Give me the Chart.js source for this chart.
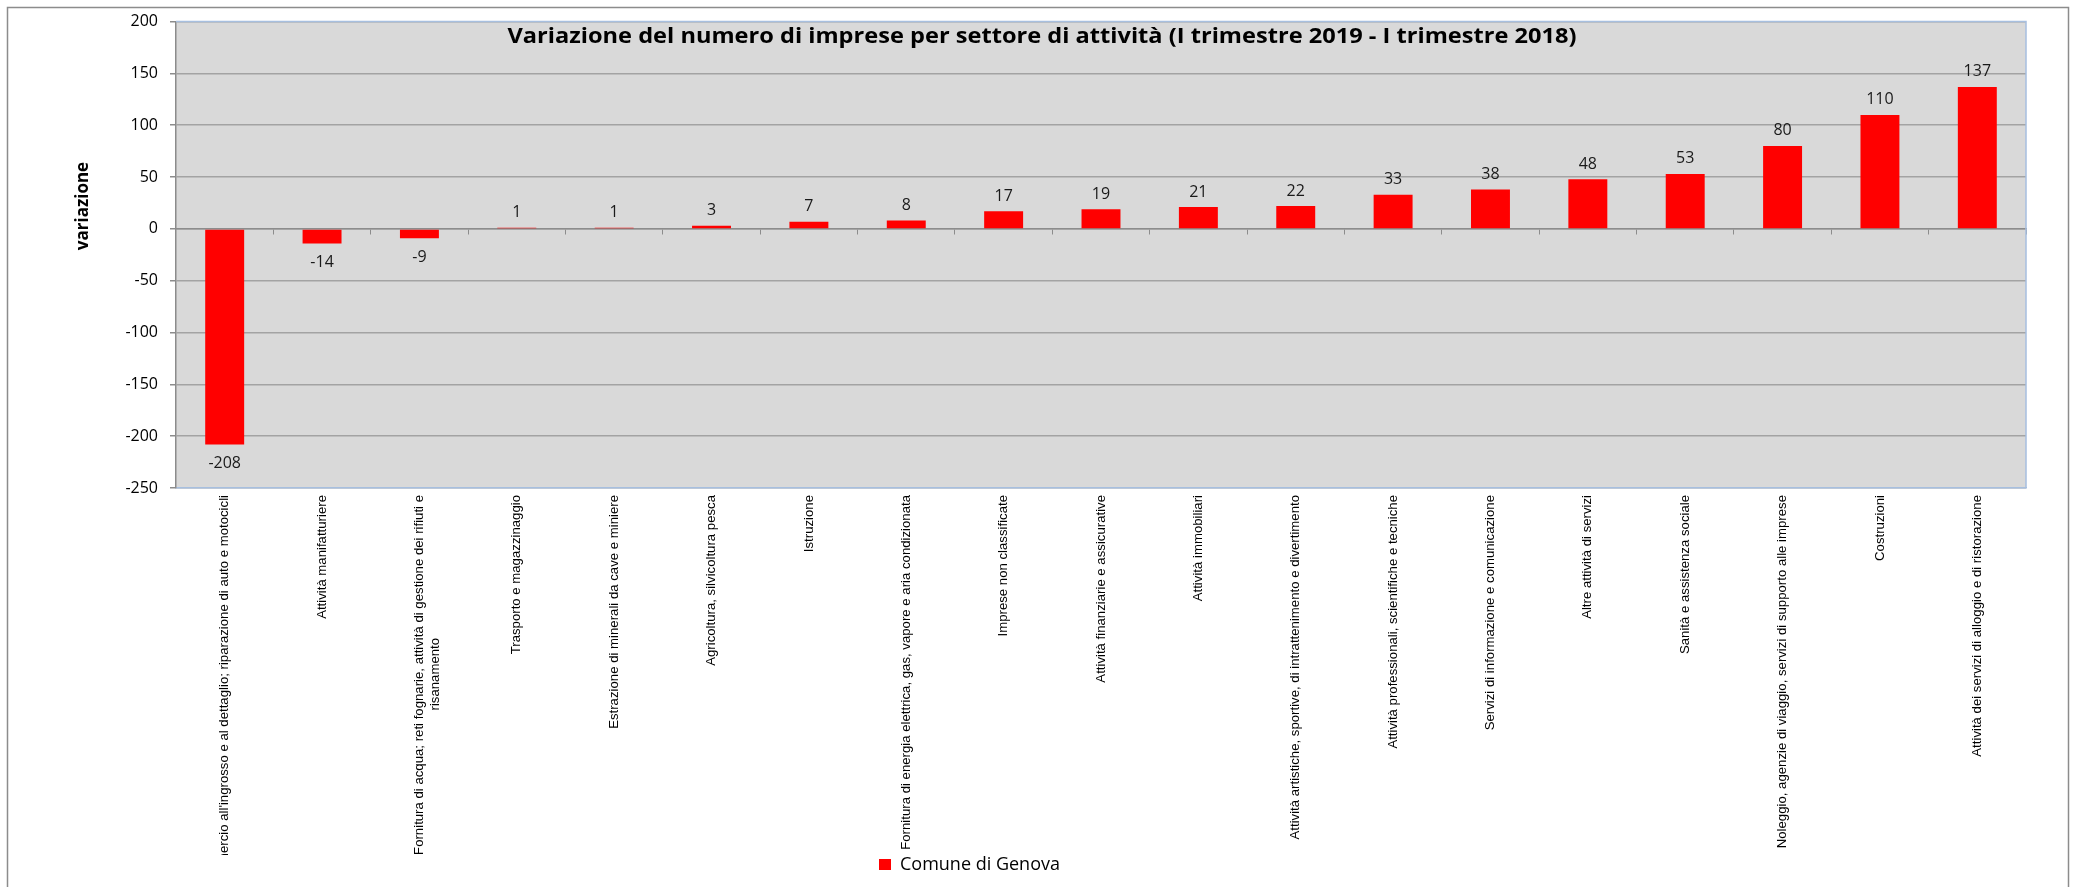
<!DOCTYPE html>
<html>
<head>
<meta charset="utf-8">
<title>Variazione del numero di imprese per settore di attività</title>
<script src="https://cdn.jsdelivr.net/npm/chart.js@4.4.1/dist/chart.umd.min.js"></script>
<style>
  html, body { margin: 0; padding: 0; background: #fff; }
  canvas { display: block; }
</style>
</head>
<body>
<canvas id="chart" width="2076" height="887"></canvas>
<script>
// dati
const settori = [
  "Commercio all'ingrosso e al dettaglio; riparazione di auto e motocicli",
  'Attività manifatturiere',
  ['Fornitura di acqua; reti fognarie, attività di gestione dei rifiuti e', 'risanamento'],
  'Trasporto e magazzinaggio',
  'Estrazione di minerali da cave e miniere',
  'Agricoltura, silvicoltura pesca',
  'Istruzione',
  'Fornitura di energia elettrica, gas, vapore e aria condizionata',
  'Imprese non classificate',
  'Attività finanziarie e assicurative',
  'Attività immobiliari',
  'Attività artistiche, sportive, di intrattenimento e divertimento',
  'Attività professionali, scientifiche e tecniche',
  'Servizi di informazione e comunicazione',
  'Altre attività di servizi',
  'Sanità e assistenza sociale',
  'Noleggio, agenzie di viaggio, servizi di supporto alle imprese',
  'Costruzioni',
  'Attività dei servizi di alloggio e di ristorazione'
];
const variazioni = [-208, -14, -9, 1, 1, 3, 7, 8, 17, 19, 21, 22, 33, 38, 48, 53, 80, 110, 137];
const serie = 'Comune di Genova';
const titolo = 'Variazione del numero di imprese per settore di attività (I trimestre 2019 - I trimestre 2018)';
const titoloAsseY = 'variazione';
const yMin = -250;
const yMax = 200;
const yPasso = 50;

const FONT = '"Open Sans", "Liberation Sans", sans-serif';
const FONT_ETICH = '"Liberation Sans", Arial, sans-serif';
const DIM_X = 13.2;

// Excel centra la seconda riga dell'etichetta: aggiungo spazi in coda
const misura = document.createElement('canvas').getContext('2d');
function centraRighe(label) {
  if (!Array.isArray(label)) return label;
  misura.font = DIM_X + 'px ' + FONT_ETICH;
  const w0 = misura.measureText(label[0]).width;
  const sp = misura.measureText(' ').width;
  return label.map((r, i) => {
    if (i === 0) return r;
    const n = Math.round((w0 - misura.measureText(r).width) / 2 / sp);
    return r + ' '.repeat(Math.max(n, 0));
  });
}

// cornice esterna, sfondo grigio dell'area del grafico e bordo azzurro
const sfondo = {
  id: 'sfondo',
  beforeDraw(chart) {
    const { ctx, chartArea: a } = chart;
    ctx.save();
    ctx.strokeStyle = '#8c8c8c';
    ctx.lineWidth = 1.5;
    ctx.strokeRect(7.5, 7.5, 2061, 900);
    ctx.fillStyle = '#d9d9d9';
    ctx.fillRect(a.left, a.top, a.right - a.left, a.bottom - a.top);
    ctx.restore();
  },
  beforeDatasetsDraw(chart) {
    const { ctx, chartArea: a } = chart;
    ctx.save();
    ctx.strokeStyle = '#a7bfdf';
    ctx.lineWidth = 1.5;
    ctx.beginPath();
    ctx.moveTo(a.left, a.top);
    ctx.lineTo(a.right, a.top);
    ctx.lineTo(a.right, a.bottom);
    ctx.stroke();
    ctx.restore();
  }
};

// valori sopra / sotto le barre
const etichette = {
  id: 'etichette',
  afterDatasetsDraw(chart) {
    const { ctx } = chart;
    const meta = chart.getDatasetMeta(0);
    const dati = chart.data.datasets[0].data;
    ctx.save();
    ctx.font = '16px ' + FONT;
    ctx.fillStyle = '#1a1a1a';
    ctx.textAlign = 'center';
    ctx.textBaseline = 'alphabetic';
    meta.data.forEach((bar, i) => {
      const v = dati[i];
      const y = v >= 0 ? bar.y - 10.5 : bar.y + 24;
      ctx.fillText(String(v), bar.x, y);
    });
    ctx.restore();
  }
};

// titolo sovrapposto all'area e titolo dell'asse y
const testi = {
  id: 'testi',
  afterDraw(chart) {
    const { ctx } = chart;
    ctx.save();
    ctx.fillStyle = '#000';
    ctx.font = 'bold 22px ' + FONT;
    ctx.textAlign = 'center';
    ctx.textBaseline = 'alphabetic';
    const w = ctx.measureText(titolo).width;
    ctx.translate(1042, 43);
    ctx.scale(1069 / w, 1);
    ctx.fillText(titolo, 0, 0);
    ctx.restore();

    ctx.save();
    ctx.fillStyle = '#000';
    ctx.translate(83, 206);
    ctx.rotate(-Math.PI / 2);
    ctx.font = 'bold 17px ' + FONT;
    ctx.textAlign = 'center';
    ctx.textBaseline = 'middle';
    ctx.fillText(titoloAsseY, 0, 0);
    ctx.restore();
  }
};

// la legenda di Excel non e' centrata: la sposto
const spostaLegenda = {
  id: 'spostaLegenda',
  afterLayout(chart) {
    const lg = chart.legend;
    const pad = lg.options.labels.padding;
    const h = lg.bottom - lg.top;
    lg.top = 851.5;
    lg.bottom = lg.top + h;
    const cur = (lg.left + pad + lg.right - lg.lineWidths[0]) / 2;
    const dx = 879 - cur;
    lg.left += dx;
    lg.right += dx;
  }
};

new Chart(document.getElementById('chart').getContext('2d'), {
  type: 'bar',
  data: {
    labels: settori,
    datasets: [{
      label: serie,
      data: variazioni,
      xAxisID: 'x',
      yAxisID: 'y',
      backgroundColor: '#ff0000',
      borderWidth: 0,
      barPercentage: 0.4,
      categoryPercentage: 1
    }]
  },
  options: {
    responsive: false,
    animation: false,
    devicePixelRatio: 1,
    layout: { padding: { left: 0, top: 18, right: 50, bottom: 0 } },
    plugins: {
      legend: {
        position: 'bottom',
        labels: {
          boxWidth: 12,
          boxHeight: 11,
          padding: 4,
          color: '#000',
          font: { family: FONT, size: 18 }
        }
      },
      title: { display: false },
      tooltip: { enabled: false }
    },
    scales: {
      x: {
        ticks: {
          minRotation: 90,
          maxRotation: 90,
          autoSkip: false,
          padding: 7,
          color: '#000',
          font: { family: FONT_ETICH, size: DIM_X },
          callback(value) { return centraRighe(this.getLabelForValue(value)); }
        },
        grid: { display: false, drawTicks: false },
        border: { color: '#a7bfdf', width: 1.5 },
        afterFit(s) { s.height = 367; }
      },
      // asse orizzontale che incrocia lo zero, con le tacche tra le categorie
      x0: {
        type: 'category',
        position: { y: 0 },
        offset: true,
        ticks: { display: false },
        grid: { offset: true, drawOnChartArea: false, drawTicks: true, tickLength: 5, color: '#8c8c8c' },
        border: { color: '#8c8c8c', width: 1.5 }
      },
      y: {
        min: yMin,
        max: yMax,
        ticks: {
          stepSize: yPasso,
          padding: 12,
          color: '#000',
          font: { family: FONT, size: 16 }
        },
        grid: { color: '#a3a3a3', lineWidth: 1.5, tickLength: 6, tickColor: '#8c8c8c' },
        border: { color: '#8c8c8c', width: 1.5 },
        afterFit(s) { s.width = 176; }
      }
    }
  },
  plugins: [sfondo, etichette, testi, spostaLegenda]
});
</script>
</body>
</html>
